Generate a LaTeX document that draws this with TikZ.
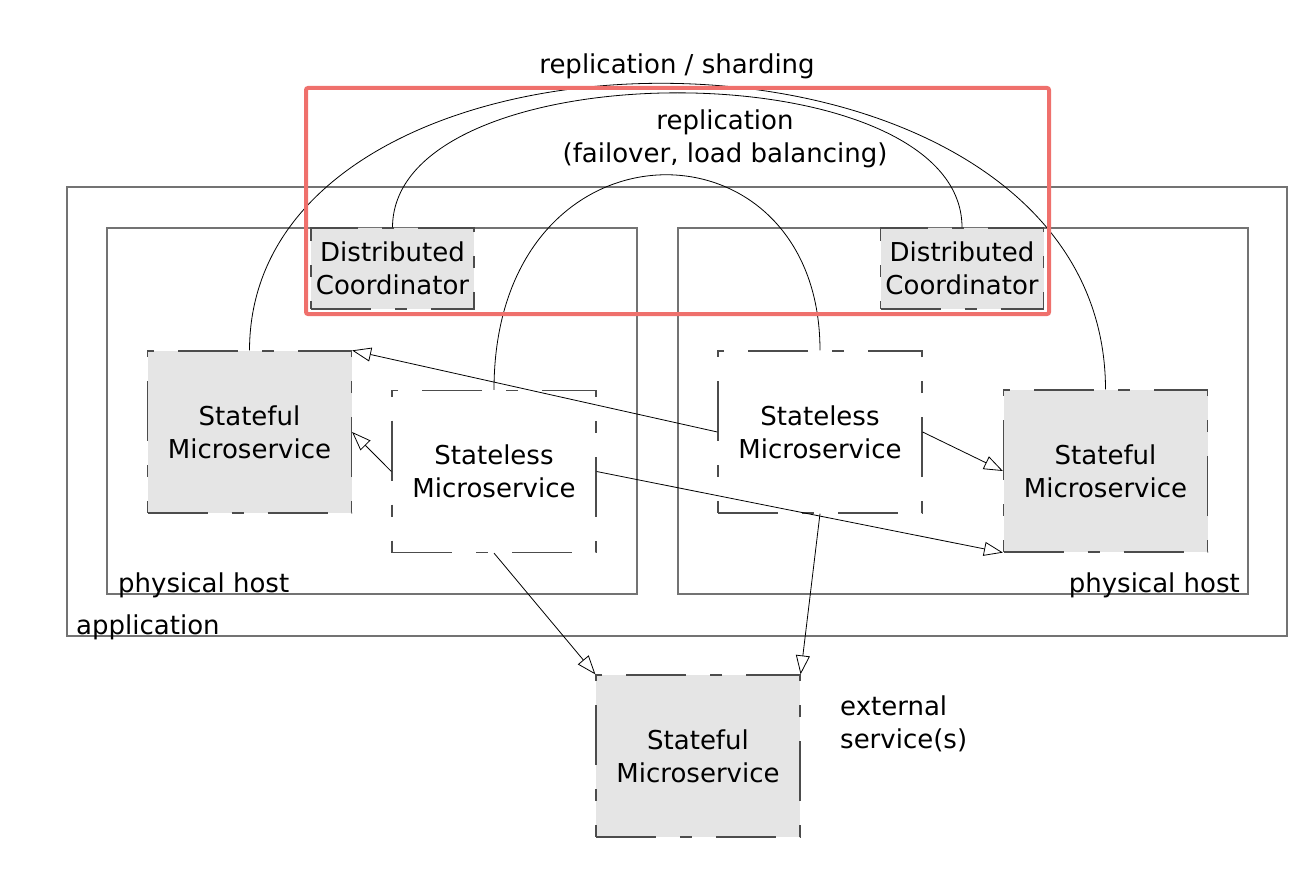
\documentclass[tikz,border=0pt]{standalone}
\usepackage{fontspec}
\setmainfont{DejaVu Sans}
\usetikzlibrary{arrows.meta}
\definecolor{hilite}{RGB}{239,112,108}

\begin{document}
\begin{tikzpicture}[x=1pt, y=-1pt,
            every node/.style={font=\fontsize{26}{33}\selectfont, inner sep=0pt},
            host box/.style={draw=black!55, line width=1.3pt},
            ms node/.style={draw=black!70, line width=1.2pt, dash pattern=on 60pt off 24pt on 12pt off 24pt, minimum width=204pt, minimum height=162pt, align=center},
            stateful/.style={ms node, fill=black!10},
            stateless/.style={ms node},
            coord node/.style={ms node, fill=black!10, minimum width=163pt, minimum height=81pt},
            link/.style={-{Triangle[open, length=19pt, width=14pt]}, line width=0.8pt},
            arc/.style={line width=0.8pt},
            ]
            \useasboundingbox (0,0) rectangle (1316,888);

            \draw[host box] (67,187) rectangle (1287,636);
            \draw[host box] (107,228) rectangle (637,594);
            \draw[host box] (678,228) rectangle (1248,594);

            \node[anchor=base west] (app label) at (76,634) {application};
            \node[anchor=base west] (host1 label) at (118,592) {physical host};
            \node[anchor=base east] (host2 label) at (1240,592) {physical host};

            \node[coord node] (dc1) at (392.5,268.5) {Distributed\\Coordinator};
            \node[coord node] (dc2) at (962,268.5) {Distributed\\Coordinator};
            \node[stateful] (sf1) at (249.5,432) {Stateful\\Microservice};
            \node[stateless] (sl1) at (494,471.5) {Stateless\\Microservice};
            \node[stateless] (sl2) at (820,432) {Stateless\\Microservice};
            \node[stateful] (sf2) at (1105.5,471) {Stateful\\Microservice};
            \node[stateful] (ext) at (698,756) {Stateful\\Microservice};
            \node[anchor=north west, align=left] (ext label) at (840,696) {external\\service(s)};

            \node (shard label) at (677,66) {replication / sharding};
            \node[align=center] (repl label) at (725,139) {replication\\(failover, load balancing)};

            \draw[arc] (sf1.north) .. controls (250,-12) and (1105,-12) .. (sf2.north);
            \draw[arc] (dc1.north) .. controls (393,48) and (962,48) .. (dc2.north);
            \draw[arc] (sl1.north) .. controls (494,110) and (820,110) .. (sl2.north);

            \draw[link] (sl2.west) -- (sf1.north east);
            \draw[link] (sl1.west) -- (sf1.east);
            \draw[link] (sl1.east) -- (sf2.south west);
            \draw[link] (sl2.east) -- (sf2.west);
            \draw[link] (sl1.south) -- (ext.north west);
            \draw[link] (sl2.south) -- (ext.north east);

            \draw[hilite, line width=4pt, rounded corners=2pt] (306,88) rectangle (1049,314);
        \end{tikzpicture}
\end{document}
